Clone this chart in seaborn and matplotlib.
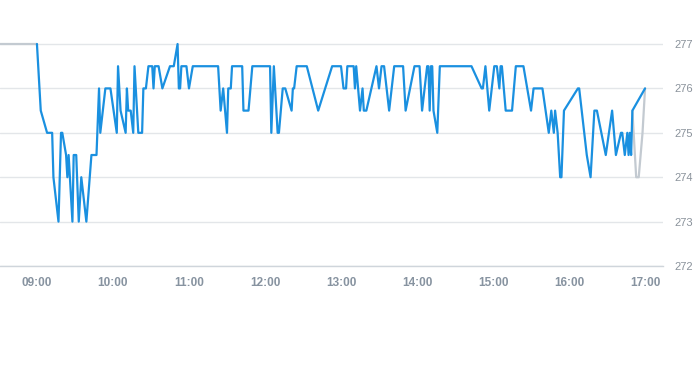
import matplotlib
matplotlib.use("Agg")
import matplotlib.pyplot as plt
import matplotlib.dates as mdates
import pandas as pd
import seaborn as sns

DAY = "2024-01-02 "

# Main (blue) series: time of trade and price
blue_times = [
    "09:00", "09:03", "09:08", "09:12", "09:13", "09:17", "09:19", "09:20", "09:23", "09:24",
    "09:25", "09:28", "09:29", "09:31", "09:33", "09:35", "09:39", "09:43", "09:47", "09:49",
    "09:50", "09:54", "09:58", "10:03", "10:04", "10:06", "10:10", "10:11", "10:12", "10:14",
    "10:16", "10:17", "10:20", "10:23", "10:24", "10:26", "10:28", "10:31", "10:32", "10:33",
    "10:36", "10:39", "10:45", "10:48", "10:51", "10:52", "10:53", "10:54", "10:58", "11:00",
    "11:03", "11:23", "11:25", "11:27", "11:30", "11:31", "11:33", "11:34", "11:42", "11:43",
    "11:47", "11:50", "12:04", "12:05", "12:07", "12:10", "12:11", "12:14", "12:16", "12:21",
    "12:22", "12:23", "12:25", "12:33", "12:42", "12:53", "13:00", "13:02", "13:04", "13:05",
    "13:10", "13:11", "13:12", "13:15", "13:17", "13:18", "13:20", "13:28", "13:30", "13:32",
    "13:34", "13:38", "13:42", "13:49", "13:51", "13:58", "14:02", "14:04", "14:08", "14:09",
    "14:10", "14:11", "14:12", "14:13", "14:16", "14:18", "14:43", "14:51", "14:52", "14:54",
    "14:57", "15:01", "15:03", "15:05", "15:06", "15:07", "15:10", "15:15", "15:18", "15:24",
    "15:30", "15:32", "15:39", "15:44", "15:46", "15:48", "15:49", "15:51", "15:53", "15:54",
    "15:56", "16:07", "16:08", "16:14", "16:17", "16:20", "16:22", "16:29", "16:34", "16:37",
    "16:41", "16:42", "16:44", "16:46", "16:47", "16:48", "16:49", "16:50", "17:00",
]
blue_prices = [
    277, 275.5, 275, 275, 274, 273, 275, 275, 274.5, 274,
    274.5, 273, 274.5, 274.5, 273, 274, 273, 274.5, 274.5, 276,
    275, 276, 276, 275, 276.5, 275.5, 275, 276, 275.5, 275.5,
    275, 276.5, 275, 275, 276, 276, 276.5, 276.5, 276, 276.5,
    276.5, 276, 276.5, 276.5, 277, 276, 276, 276.5, 276.5, 276,
    276.5, 276.5, 275.5, 276, 275, 276, 276, 276.5, 276.5, 275.5,
    275.5, 276.5, 276.5, 275, 276.5, 275, 275, 276, 276, 275.5,
    276, 276, 276.5, 276.5, 275.5, 276.5, 276.5, 276, 276, 276.5,
    276.5, 276, 276.5, 275.5, 276, 275.5, 275.5, 276.5, 276, 276.5,
    276.5, 275.5, 276.5, 276.5, 275.5, 276.5, 276.5, 275.5, 276.5, 276.5,
    275.5, 276.5, 276.5, 275.5, 275, 276.5, 276.5, 276, 276, 276.5,
    275.5, 276.5, 276.5, 276, 276.5, 276.5, 275.5, 275.5, 276.5, 276.5,
    275.5, 276, 276, 275, 275.5, 275, 275.5, 275, 274, 274,
    275.5, 276, 276, 274.5, 274, 275.5, 275.5, 274.5, 275.5, 274.5,
    275, 275, 274.5, 275, 274.5, 275, 274.5, 275.5, 276,
]

# Secondary (grey) segments
grey_pre_times = ["08:30", "09:00"]
grey_pre_prices = [277, 277]
grey_post_times = ["16:50", "16:53", "16:55", "16:58", "17:00"]
grey_post_prices = [275.5, 274, 274, 275, 276]

hour_ticks = ["09:00", "10:00", "11:00", "12:00", "13:00", "14:00", "15:00", "16:00", "17:00"]
price_ticks = [272, 273, 274, 275, 276, 277]


def to_dt(ts):
    return pd.to_datetime([DAY + t for t in ts])


blue_df = pd.DataFrame({"time": to_dt(blue_times), "price": blue_prices})
pre_df = pd.DataFrame({"time": to_dt(grey_pre_times), "price": grey_pre_prices})
post_df = pd.DataFrame({"time": to_dt(grey_post_times), "price": grey_post_prices})

sns.set_style("white")
plt.rcParams["font.family"] = ["Liberation Sans", "DejaVu Sans"]

fig = plt.figure(figsize=(6.93, 3.65), dpi=100)
ax = fig.add_axes([0.0, 0.2712, 663 / 693, 0.6447])

grey = "#c3cad1"
blue = "#1a90e0"
sns.lineplot(data=pre_df, x="time", y="price", ax=ax, color=grey, linewidth=1.6)
sns.lineplot(data=post_df, x="time", y="price", ax=ax, color=grey, linewidth=1.6)
sns.lineplot(data=blue_df, x="time", y="price", ax=ax, color=blue, linewidth=1.6)

ax.set_xlim(pd.Timestamp(DAY + "08:30:50"), pd.Timestamp(DAY + "17:14:10"))
ax.set_ylim(272, 277.3)
ax.set_yticks(price_ticks)
ax.set_xticks(to_dt(hour_ticks))
ax.xaxis.set_major_formatter(mdates.DateFormatter("%H:%M"))

ax.yaxis.tick_right()
ax.grid(axis="y", color="#e3e6e9", linewidth=1.0)
ax.grid(axis="x", visible=False)
ax.set_axisbelow(True)
for side in ["top", "left", "right"]:
    ax.spines[side].set_visible(False)
ax.spines["bottom"].set_color("#cfd5db")
ax.spines["bottom"].set_linewidth(1.0)

ax.tick_params(axis="x", direction="out", length=5, width=0.8, color="#cfd5db",
               labelsize=8.5, labelcolor="#8793a0", pad=3)
for lbl in ax.get_xticklabels():
    lbl.set_fontweight("bold")
ax.tick_params(axis="y", length=0, labelsize=8, labelcolor="#8a929b", pad=8)

ax.set_xlabel("")
ax.set_ylabel("")
if ax.get_legend():
    ax.get_legend().remove()

fig.savefig("out.png", dpi=100)
